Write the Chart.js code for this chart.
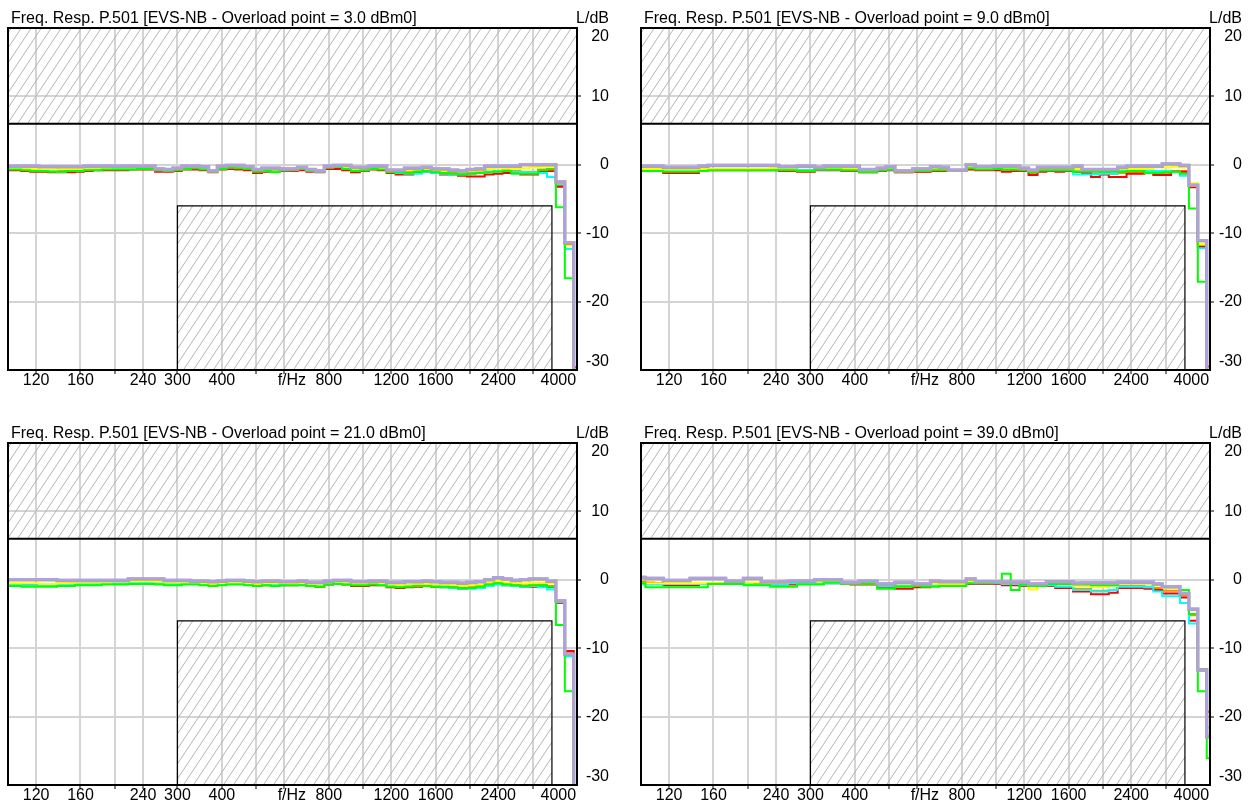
<!DOCTYPE html>
<html><head><meta charset="utf-8">
<script src="https://cdn.jsdelivr.net/npm/chart.js@4.4.1/dist/chart.umd.min.js"></script>
<style>
html,body{margin:0;padding:0;background:#fff;}
body{width:1252px;height:801px;position:relative;overflow:hidden;font-family:"Liberation Sans",Arial,sans-serif;color:#000;}
.panel{position:absolute;width:633px;height:415px;}
.panel canvas{position:absolute;left:0;top:0;}
.title{position:absolute;left:11px;top:10px;font-size:16px;line-height:16px;white-space:nowrap;}
.unit{position:absolute;left:0;width:609px;top:10px;font-size:16px;line-height:16px;text-align:right;white-space:nowrap;}
</style></head>
<body>
<script>
// band centre frequencies (1/12 octave), Hz
const FREQS = [100,105.9,112.2,118.9,126,133.5,141.4,149.8,158.7,168.2,178.2,188.8,200,211.9,224.5,237.8,252,267,282.8,299.7,317.5,336.4,356.4,377.5,400,423.8,449,475.7,504,534,565.7,599.3,635,672.7,712.7,755.1,800,847.6,898,951.4,1008,1068,1131,1199,1270,1345,1425,1510,1600,1695,1796,1903,2016,2136,2263,2397,2540,2691,2851,3020,3200,3390,3592,3805,4032];

const TITLES = [
  'Freq. Resp. P.501 [EVS-NB - Overload point = 3.0 dBm0]',
  'Freq. Resp. P.501 [EVS-NB - Overload point = 9.0 dBm0]',
  'Freq. Resp. P.501 [EVS-NB - Overload point = 21.0 dBm0]',
  'Freq. Resp. P.501 [EVS-NB - Overload point = 39.0 dBm0]'
];
const UNIT_LABEL = 'L/dB';

const X_TICKS  = [100,120,160,200,240,300,400,500,600,630,800,1000,1200,1600,2000,2400,3000,3545,4000];
const X_LABELS = ['','120','160','','240','300','400','','','f/Hz','800','','1200','1600','','2400','','4000',''];
const X_GRID   = [0,1,1,1,1,1,1,1,1,0,1,1,1,1,1,1,1,0,0];
const Y_TICKS  = [-30,-28.8,-20,-10,0,10,18.8,20];
const Y_LABELS = ['','-30','-20','-10','0','10','20',''];
const Y_GRID   = [0,0,1,1,1,1,0,0];

// mask limits
const MASK_UPPER = [[100,6],[4000,6]];
const MASK_LOWER = [[300,-30],[300,-6],[3400,-6],[3400,-30]];

// ---------- Panel 1 (3.0 dBm0) ----------
const P1_LAV = [-0.1,-0.1,-0.1,-0.1,-0.2,-0.2,-0.2,-0.2,-0.2,-0.1, -0.1,-0.1,-0.1,-0.1,-0.1,-0.1,-0.1,-0.5,-0.6,-0.4, -0.1,-0.1,-0.2,-0.8,-0.1,0,0,-0.2,-0.6,-0.4, -0.4,-0.5,-0.5,-0.3,-0.6,-0.8,-0.1,0,0,-0.3, -0.3,-0.1,-0.1,-0.7,-0.7,-0.4,-0.4,-0.3,-0.5,-0.5, -0.7,-0.8,-0.6,-0.5,-0.1,-0.1,-0.1,-0.1,0.1,0.1, 0.1,0.1,-2.4,-11.3,-31];
const P1_GRY = [-0.2,-0.2,-0.2,-0.2,-0.3,-0.3,-0.3,-0.3,-0.3,-0.2, -0.2,-0.2,-0.2,-0.2,-0.2,-0.2,-0.2,-0.6,-0.7,-0.5, -0.2,-0.2,-0.3,-0.9,-0.2,-0.1,-0.1,-0.3,-0.7,-0.5, -0.5,-0.6,-0.6,-0.4,-0.7,-0.9,-0.2,-0.1,-0.1,-0.4, -0.4,-0.2,-0.2,-0.8,-0.8,-0.5,-0.5,-0.4,-0.6,-0.6, -0.8,-0.9,-0.7,-0.6,-0.2,-0.2,-0.2,-0.2,0,0, 0,0,-2.5,-11.4,-31];
const P1_RED = [-0.8,-0.8,-0.9,-1.0,-1.0,-1.1,-1.1,-1.1,-1.0,-0.9, -0.8,-0.8,-0.8,-0.8,-0.7,-0.7,-0.7,-1.0,-1.0,-0.9, -0.7,-0.7,-0.8,-1.1,-0.7,-0.6,-0.7,-0.8,-1.2,-1.0, -1.0,-0.9,-0.9,-0.8,-1.0,-1.1,-0.6,-0.6,-0.8,-1.1, -0.9,-0.7,-0.8,-1.2,-1.4,-1.4,-1.1,-1.0,-1.2,-1.4, -1.4,-1.6,-1.7,-1.7,-1.4,-1.3,-1.2,-1.2,-1.4,-1.4, -1.0,-0.9,-3.2,-11.6,-29.6];
const P1_GRN = [-0.7,-0.7,-0.8,-0.9,-0.9,-1.0,-1.0,-0.9,-0.9,-0.8, -0.8,-0.7,-0.7,-0.7,-0.7,-0.6,-0.6,-0.8,-0.9,-0.8, -0.6,-0.5,-0.7,-1.0,-0.6,-0.4,-0.5,-0.6,-1.0,-0.9, -1.1,-0.8,-0.8,-0.6,-0.9,-0.9,-0.4,-0.3,-0.6,-0.9, -0.8,-0.6,-0.7,-1.1,-1.1,-1.2,-1.0,-0.9,-1.1,-1.2, -1.3,-1.4,-1.3,-1.2,-1.1,-1.0,-0.9,-1.3,-1.3,-1.3, -0.8,-0.7,-6.2,-16.6,-33];
const P1_YEL = [-0.5,-0.5,-0.6,-0.6,-0.7,-0.7,-0.6,-0.6,-0.6,-0.5, -0.5,-0.5,-0.4,-0.4,-0.4,-0.4,-0.4,-0.7,-0.7,-0.6, -0.4,-0.3,-0.4,-0.9,-0.4,-0.3,-0.3,-0.4,-0.8,-0.7, -0.7,-0.6,-0.7,-0.5,-0.8,-0.9,-0.3,-0.2,-0.4,-0.7, -0.6,-0.4,-0.5,-0.9,-0.9,-0.8,-0.7,-0.6,-0.8,-0.9, -0.9,-1.0,-0.9,-0.8,-0.6,-0.5,-0.5,-0.6,-0.5,-0.4, -0.3,-0.3,-2.6,-11.8,-30.3];
const P1_CYN = [-0.6,-0.6,-0.7,-0.8,-0.9,-0.9,-1.0,-0.9,-0.8,-0.7, -0.7,-0.6,-0.6,-0.5,-0.5,-0.5,-0.5,-0.8,-0.8,-0.7, -0.5,-0.4,-0.5,-0.9,-0.5,-0.4,-0.4,-0.5,-0.9,-0.9, -1.0,-0.8,-0.7,-0.6,-0.8,-1.0,-0.4,-0.3,-0.5,-0.8, -0.8,-0.6,-0.6,-1.0,-1.2,-1.3,-1.3,-1.0,-1.2,-1.3, -1.4,-1.4,-1.3,-1.2,-1.0,-0.9,-0.9,-1.0,-1.1,-1.1, -1.2,-1.8,-2.8,-12.3,-31];
const P1_ORG = [-0.6,-0.6,-0.7,-0.8,-0.8,-0.9,-0.9,-0.9,-0.8,-0.7, -0.6,-0.6,-0.6,-0.6,-0.5,-0.5,-0.5,-0.9,-0.9,-0.8, -0.6,-0.5,-0.6,-1.0,-0.6,-0.5,-0.5,-0.6,-1.0,-0.9, -0.8,-0.8,-0.8,-0.7,-0.9,-1.0,-0.5,-0.4,-0.6,-0.9, -0.8,-0.6,-0.7,-1.0,-1.1,-1.0,-0.9,-0.8,-1.0,-1.1, -1.1,-1.2,-1.2,-1.1,-1.0,-0.9,-0.8,-0.9,-1.0,-1.0, -0.7,-0.6,-3.0,-11.5,-30];

// ---------- Panel 2 (9.0 dBm0) ----------
const P2_LAV = [-0.1,-0.1,-0.1,-0.3,-0.3,-0.3,-0.3,-0.1,0,0, 0,0,0,0,0,0,-0.2,-0.2,-0.1,-0.1, -0.3,-0.1,-0.1,-0.1,-0.1,-0.6,-0.6,-0.4,-0.2,-0.8, -0.8,-0.5,-0.5,-0.2,-0.3,-0.7,-0.7,0.1,-0.2,-0.2, -0.1,-0.1,-0.1,-0.4,-0.7,-0.3,-0.3,-0.3,-0.3,-0.1, -0.6,-0.6,-0.6,-0.6,-0.3,-0.1,-0.1,-0.1,-0.1,0.2, 0.2,0,-2.9,-11.0,-31];
const P2_GRY = [-0.2,-0.2,-0.2,-0.4,-0.4,-0.4,-0.4,-0.2,-0.1,-0.1, -0.1,-0.1,-0.1,-0.1,-0.1,-0.1,-0.3,-0.3,-0.2,-0.2, -0.4,-0.2,-0.2,-0.2,-0.2,-0.7,-0.7,-0.5,-0.3,-0.9, -0.9,-0.6,-0.6,-0.3,-0.4,-0.8,-0.8,0,-0.3,-0.3, -0.2,-0.2,-0.2,-0.5,-0.8,-0.4,-0.4,-0.4,-0.4,-0.2, -0.7,-0.7,-0.7,-0.7,-0.4,-0.2,-0.2,-0.2,-0.2,0.1, 0.1,-0.1,-3.0,-11.1,-31];
const P2_RED = [-0.8,-0.8,-0.8,-1.2,-1.2,-1.2,-1.2,-0.8,-0.8,-0.8, -0.8,-0.8,-0.8,-0.8,-0.8,-0.8,-0.9,-0.9,-1.0,-1.0, -0.8,-0.8,-0.8,-0.9,-0.9,-1.1,-1.1,-0.9,-0.8,-1.1, -1.1,-1.0,-1.0,-0.9,-0.9,-0.9,-0.9,-0.7,-0.8,-0.8, -0.8,-1.0,-0.9,-0.9,-1.5,-1.0,-0.9,-1.0,-0.9,-1.0, -1.2,-1.8,-1.4,-1.8,-1.8,-1.3,-1.3,-1.2,-1.5,-1.5, -1.0,-1.0,-3.3,-12.0,-29.5];
const P2_GRN = [-0.9,-0.9,-0.9,-1.0,-1.0,-1.0,-1.0,-0.9,-0.8,-0.8, -0.8,-0.8,-0.8,-0.8,-0.8,-0.8,-0.8,-0.8,-0.9,-0.9, -0.7,-0.7,-0.7,-0.8,-0.8,-1.1,-1.1,-0.8,-0.7,-1.0, -1.0,-0.9,-0.9,-0.8,-0.8,-0.9,-0.9,-0.5,-0.7,-0.7, -0.6,-0.7,-0.7,-0.8,-1.1,-0.8,-0.8,-0.8,-0.8,-1.0, -1.0,-1.0,-1.0,-1.0,-1.0,-0.9,-0.9,-1.2,-1.2,-1.1, -1.0,-1.3,-6.4,-17.1,-33];
const P2_YEL = [-0.6,-0.6,-0.6,-0.7,-0.7,-0.7,-0.7,-0.6,-0.6,-0.6, -0.6,-0.6,-0.6,-0.6,-0.6,-0.5,-0.5,-0.5,-0.2,-0.2, -0.6,-0.6,-0.6,-0.6,-0.6,-0.8,-0.8,-0.6,-0.5,-0.8, -0.8,-0.7,-0.7,-0.6,-0.6,-0.8,-0.8,-0.3,-0.5,-0.5, -0.4,-0.5,-0.5,-0.6,-0.9,-0.7,-0.7,-0.7,-0.7,-0.6, -0.8,-0.8,-0.8,-0.8,-0.6,-0.6,-0.6,-0.6,-0.4,-0.4, -0.3,-0.4,-2.7,-11.6,-30.3];
const P2_CYN = [-0.4,-0.4,-0.6,-0.8,-0.8,-0.8,-0.8,-0.7,-0.7,-0.7, -0.7,-0.7,-0.7,-0.7,-0.7,-0.7,-0.7,-0.7,-0.8,-0.8, -0.7,-0.7,-0.7,-0.8,-0.8,-0.9,-0.9,-0.8,-0.7,-0.9, -0.9,-0.8,-0.8,-0.7,-0.7,-0.8,-0.8,-0.4,-0.6,-0.6, -0.6,-0.7,-0.7,-0.7,-1.0,-0.8,-0.8,-0.8,-0.8,-1.4, -1.4,-1.4,-1.3,-1.3,-0.9,-0.9,-0.9,-0.9,-0.9,-0.9, -1.1,-1.6,-3.0,-12.2,-31];
const P2_ORG = [-0.7,-0.7,-0.7,-1.1,-1.1,-1.0,-1.0,-0.7,-0.7,-0.7, -0.7,-0.7,-0.7,-0.7,-0.7,-0.7,-0.8,-0.8,-0.8,-0.8, -0.7,-0.7,-0.7,-0.8,-0.8,-1.0,-1.0,-0.8,-0.7,-1.1, -1.1,-1.0,-1.0,-0.8,-0.8,-0.9,-0.9,-0.6,-0.7,-0.7, -0.7,-0.8,-0.8,-0.8,-1.3,-0.9,-0.9,-0.9,-0.9,-1.0, -1.1,-1.3,-1.2,-1.3,-1.2,-1.1,-1.1,-1.1,-1.3,-1.2, -0.9,-0.9,-3.1,-11.8,-30];

// ---------- Panel 3 (21.0 dBm0) ----------
const P3_LAV = [0.1,0.1,0.1,0.1,0.1,0.1,0,0,0,0, 0,0,0,0,0.2,0.2,0.2,0.2,0,0, 0,-0.1,-0.1,-0.2,-0.1,0,0,-0.1,-0.2,-0.1, -0.1,-0.2,-0.2,-0.1,-0.3,-0.3,-0.1,0,0,-0.2, -0.2,-0.1,-0.1,-0.3,-0.3,-0.2,-0.2,-0.1,-0.2,-0.3, -0.3,-0.4,-0.3,-0.2,0.1,0.4,0.2,0,0.1,0.2, 0.2,-0.1,-3.0,-10.8,-31];
const P3_GRY = [0,0,0,0,0,0,-0.1,-0.1,-0.1,-0.1, -0.1,-0.1,-0.1,-0.1,0.1,0.1,0.1,0.1,-0.1,-0.1, -0.1,-0.2,-0.2,-0.3,-0.2,-0.1,-0.1,-0.2,-0.3,-0.2, -0.2,-0.3,-0.3,-0.2,-0.4,-0.4,-0.2,-0.1,-0.1,-0.3, -0.3,-0.2,-0.2,-0.4,-0.4,-0.3,-0.3,-0.2,-0.3,-0.4, -0.4,-0.5,-0.4,-0.3,0,0.3,0.1,-0.1,0,0.1, 0.1,-0.2,-3.1,-10.9,-31];
const P3_RED = [-0.7,-0.7,-0.8,-0.8,-0.9,-0.9,-0.8,-0.8,-0.7,-0.7, -0.7,-0.6,-0.6,-0.6,-0.5,-0.5,-0.5,-0.6,-0.7,-0.7, -0.6,-0.6,-0.7,-0.8,-0.7,-0.6,-0.6,-0.7,-0.9,-0.8, -0.8,-0.8,-0.8,-0.7,-0.9,-1.0,-0.7,-0.6,-0.7,-0.9, -0.9,-0.8,-0.8,-1.1,-1.2,-1.1,-1.0,-0.9,-1.0,-1.1, -1.2,-1.3,-1.2,-1.1,-0.8,-0.6,-0.8,-0.9,-1.0,-1.0, -0.9,-1.1,-3.4,-10.4,-30];
const P3_GRN = [-0.9,-0.9,-1.0,-1.0,-1.0,-1.0,-0.9,-0.9,-0.8,-0.8, -0.8,-0.7,-0.7,-0.7,-0.6,-0.6,-0.6,-0.7,-0.8,-0.8, -0.7,-0.7,-0.8,-0.9,-0.8,-0.7,-0.7,-0.8,-0.9,-0.8, -0.9,-0.8,-0.8,-0.8,-0.9,-1.0,-0.7,-0.6,-0.7,-0.8, -0.8,-0.7,-0.8,-1.0,-1.1,-1.0,-0.9,-0.9,-1.0,-1.0, -1.1,-1.2,-1.2,-1.0,-0.7,-0.5,-0.7,-0.8,-0.9,-0.8, -0.8,-1.0,-6.6,-16.3,-31.5];
const P3_YEL = [-0.5,-0.5,-0.5,-0.5,-0.6,-0.6,-0.5,-0.5,-0.4,-0.4, -0.4,-0.4,-0.3,-0.3,-0.2,-0.2,-0.2,-0.3,-0.4,-0.4, -0.4,-0.4,-0.5,-0.6,-0.5,-0.4,-0.4,-0.5,-0.6,-0.5, -0.5,-0.5,-0.6,-0.5,-0.6,-0.7,-0.4,-0.3,-0.4,-0.6, -0.6,-0.5,-0.5,-0.7,-0.8,-0.7,-0.6,-0.6,-0.7,-0.7, -0.8,-0.9,-0.8,-0.7,-0.4,-0.2,-0.4,-0.5,-0.5,-0.4, -0.4,-0.5,-3.1,-10.9,-30.5];
const P3_CYN = [-0.7,-0.7,-0.8,-0.8,-0.8,-0.8,-0.7,-0.7,-0.6,-0.6, -0.6,-0.6,-0.5,-0.5,-0.4,-0.4,-0.4,-0.5,-0.6,-0.6, -0.5,-0.5,-0.6,-0.7,-0.6,-0.5,-0.5,-0.6,-0.8,-0.7, -0.7,-0.7,-0.7,-0.6,-0.8,-0.9,-0.5,-0.4,-0.5,-0.7, -0.7,-0.6,-0.7,-0.9,-1.0,-0.9,-0.8,-0.8,-0.9,-1.1, -1.2,-1.3,-1.3,-1.2,-0.9,-0.7,-0.8,-0.9,-1.0,-0.9, -1.1,-1.4,-3.3,-11.2,-31];
const P3_ORG = [-0.6,-0.6,-0.7,-0.7,-0.8,-0.8,-0.7,-0.7,-0.6,-0.6, -0.6,-0.5,-0.5,-0.5,-0.4,-0.4,-0.4,-0.5,-0.6,-0.6, -0.5,-0.5,-0.6,-0.7,-0.6,-0.5,-0.5,-0.6,-0.8,-0.7, -0.7,-0.7,-0.7,-0.6,-0.8,-0.9,-0.6,-0.5,-0.6,-0.8, -0.8,-0.7,-0.7,-1.0,-1.0,-0.9,-0.9,-0.8,-0.9,-1.0, -1.0,-1.1,-1.0,-0.9,-0.6,-0.4,-0.6,-0.7,-0.8,-0.8, -0.7,-0.9,-3.2,-10.6,-30];

// ---------- Panel 4 (39.0 dBm0) ----------
const P4_LAV = [0.45,0.3,0.3,0,0,0,0.3,0.3,0.3,0.3, -0.1,-0.1,0.3,0.3,-0.2,-0.2,-0.2,-0.1,-0.1,-0.1, 0.1,0.1,0.1,-0.3,-0.3,-0.1,-0.1,-0.5,-0.5,-0.3, -0.3,-0.5,-0.5,-0.1,-0.2,-0.2,-0.2,0.2,-0.2,-0.2, -0.2,-0.25,-0.25,-0.25,-0.5,-0.5,-0.2,-0.2,-0.2,-0.4, -0.35,-0.35,-0.35,-0.35,-0.25,-0.25,-0.25,-0.25,-0.5,-0.9, -0.9,-1.9,-4.2,-13.1,-22.8];
const P4_GRY = [0.35,0.2,0.2,-0.1,-0.1,-0.1,0.2,0.2,0.2,0.2, -0.2,-0.2,0.2,0.2,-0.3,-0.3,-0.3,-0.2,-0.2,-0.2, 0,0,0,-0.4,-0.4,-0.2,-0.2,-0.6,-0.6,-0.4, -0.4,-0.6,-0.6,-0.2,-0.3,-0.3,-0.3,0.1,-0.3,-0.3, -0.3,-0.35,-0.35,-0.35,-0.6,-0.6,-0.3,-0.3,-0.3,-0.5, -0.45,-0.45,-0.45,-0.45,-0.35,-0.35,-0.35,-0.35,-0.6,-1.0, -1.0,-2.0,-4.3,-13.2,-23];
const P4_RED = [-0.5,-0.5,-0.5,-0.8,-0.8,-0.8,-0.8,-0.6,-0.6,-0.6, -0.6,-0.5,-0.6,-0.6,-0.7,-0.7,-0.7,-0.7,-0.6,-0.6, -0.6,-0.5,-0.5,-0.6,-0.7,-0.7,-0.7,-1.0,-1.0,-1.3, -1.3,-1.1,-1.1,-0.8,-0.8,-0.8,-0.7,-0.6,-0.6,-0.6, -0.6,-0.8,-0.8,-0.9,-0.9,-0.9,-0.9,-1.2,-1.2,-1.7, -1.7,-2.1,-2.1,-1.9,-1.2,-1.2,-1.2,-1.3,-1.5,-2.0, -2.0,-2.6,-6.0,-13.1,-19.3];
const P4_GRN = [-0.5,-1.1,-1.1,-1.1,-1.1,-1.1,-1.1,-1.1,-0.6,-0.6, -0.6,-0.6,-0.8,-0.8,-0.8,-1.0,-1.0,-1.0,-0.7,-0.7, -0.7,-0.4,-0.4,-0.6,-0.6,-0.6,-0.6,-1.3,-1.3,-1.0, -1.0,-0.9,-1.0,-1.0,-0.9,-0.9,-0.9,-0.5,-0.5,-0.5, -0.4,0.9,-1.5,-0.7,-0.9,-0.9,-0.6,-0.6,-0.6,-0.7, -0.7,-0.8,-0.8,-0.8,-0.5,-0.5,-0.5,-0.5,-0.7,-1.0, -1.0,-1.5,-5.0,-16.3,-26.1];
const P4_YEL = [-0.5,-0.5,-0.5,-0.5,-0.5,-0.5,-0.5,-0.5,-0.5,-0.5, -0.5,-0.4,-0.4,-0.4,-0.4,-0.4,-0.4,-0.3,-0.3,-0.3, -0.3,-0.3,-0.3,-0.5,-0.5,-0.5,-0.5,-0.6,-0.6,-0.6, -0.6,-0.6,-0.6,-0.6,-0.6,-0.6,-0.6,-0.3,-0.3,-0.3, -0.3,-0.4,-0.4,-0.6,-1.4,-0.6,-0.6,-0.6,-0.6,-0.9, -0.9,-1.0,-1.0,-0.9,-0.5,-0.5,-0.5,-0.5,-0.8,-1.2, -1.2,-2.0,-4.4,-13.2,-22.5];
const P4_CYN = [-0.7,-0.7,-0.7,-0.6,-0.6,-0.6,-0.6,-0.6,-0.6,-0.6, -0.6,-0.6,-0.6,-0.7,-0.7,-0.7,-0.7,-0.5,-0.5,-0.5, -0.5,-0.5,-0.5,-0.6,-0.6,-0.6,-0.6,-0.9,-0.9,-0.8, -0.8,-0.8,-0.8,-0.9,-0.9,-0.9,-0.9,-0.5,-0.5,-0.5, -0.5,-0.6,-0.6,-0.8,-0.8,-0.8,-0.8,-1.0,-1.0,-1.5, -1.5,-1.7,-1.7,-1.5,-1.0,-1.0,-1.0,-1.1,-1.7,-2.4, -2.4,-3.4,-6.4,-13.3,-21.6];
const P4_ORG = [-0.3,-0.4,-0.6,-0.7,-0.7,-0.7,-0.7,-0.6,-0.5,-0.5, -0.5,-0.5,-0.5,-0.6,-0.6,-0.6,-0.6,-0.6,-0.5,-0.5, -0.5,-0.4,-0.4,-0.5,-0.6,-0.6,-0.6,-0.8,-0.8,-0.9, -0.9,-0.8,-0.8,-0.6,-0.7,-0.7,-0.7,-0.4,-0.4,-0.5, -0.5,-0.6,-0.6,-0.8,-0.8,-0.8,-0.8,-1.0,-1.0,-1.3, -1.3,-1.6,-1.6,-1.5,-0.9,-0.9,-0.9,-1.0,-1.2,-1.6, -1.6,-2.3,-5.2,-13.1,-20];

// series in drawing order: first = on top
const SERIES_COLORS = ['#b0a0e8','#a8a8a8','#00ff00','#ffff00','#00ffff','#ff0000','#ff8c00'];
const SERIES_WIDTHS = [2,3.5,2,2,2,2,2];
const PANEL_SERIES = [
  [P1_LAV,P1_GRY,P1_GRN,P1_YEL,P1_CYN,P1_RED,P1_ORG],
  [P2_LAV,P2_GRY,P2_GRN,P2_YEL,P2_CYN,P2_RED,P2_ORG],
  [P3_LAV,P3_GRY,P3_GRN,P3_YEL,P3_CYN,P3_RED,P3_ORG],
  [P4_LAV,P4_GRY,P4_GRN,P4_YEL,P4_CYN,P4_RED,P4_ORG]
];
const PANEL_POS = [[0,0],[633,0],[0,415],[633,415]];

Chart.defaults.font.family = "'Liberation Sans', Arial, sans-serif";
Chart.defaults.color = '#000';

function makeHatch(){
  const c = document.createElement('canvas');
  c.width = 10; c.height = 15;
  const g = c.getContext('2d');
  g.strokeStyle = '#b4b4b4'; g.lineWidth = 1;
  for (const o of [-10,0,10]) { g.beginPath(); g.moveTo(o,15); g.lineTo(o+10,0); g.stroke(); }
  return g.createPattern(c,'repeat');
}
const HATCH = makeHatch();

const framePlugin = {
  id:'frame',
  afterDatasetsDraw(chart){
    const {ctx, chartArea:a} = chart;
    ctx.save();
    ctx.strokeStyle = '#000'; ctx.lineWidth = 2;
    ctx.beginPath();
    ctx.moveTo(a.left, a.bottom); ctx.lineTo(a.left, a.top); ctx.lineTo(a.right, a.top); ctx.lineTo(a.right, a.bottom); ctx.closePath();
    ctx.stroke();
    ctx.restore();
  }
};

function idxOf(arr, v){ for (let i=0;i<arr.length;i++) if (Math.abs(arr[i]-v) < 1e-6) return i; return -1; }

PANEL_SERIES.forEach((series, p) => {
  const div = document.createElement('div');
  div.className = 'panel';
  div.style.left = PANEL_POS[p][0] + 'px';
  div.style.top = PANEL_POS[p][1] + 'px';
  const cv = document.createElement('canvas');
  cv.width = 633; cv.height = 415;
  div.appendChild(cv);
  const t = document.createElement('div'); t.className = 'title'; t.textContent = TITLES[p]; div.appendChild(t);
  const u = document.createElement('div'); u.className = 'unit'; u.textContent = UNIT_LABEL; div.appendChild(u);
  document.body.appendChild(div);

  const datasets = series.map((vals, s) => ({
    data: FREQS.map((f,i) => ({x:f, y:vals[i]})),
    borderColor: SERIES_COLORS[s], borderWidth: SERIES_WIDTHS[s],
    stepped: 'middle', pointRadius: 0, fill: false, tension: 0
  }));
  datasets.push({
    data: MASK_UPPER.map(d => ({x:d[0], y:d[1]})),
    borderColor:'#000', borderWidth:2, pointRadius:0, fill:'end', backgroundColor: HATCH
  });
  datasets.push({
    data: MASK_LOWER.map(d => ({x:d[0], y:d[1]})),
    borderColor:'#000', borderWidth:1.2, pointRadius:0, fill:'start', backgroundColor: HATCH
  });

  new Chart(cv, {
    type:'line',
    data:{datasets},
    options:{
      responsive:false, animation:false, events:[], devicePixelRatio:1,
      layout:{padding:{left:8, top:28, right:24, bottom:0}},
      plugins:{legend:{display:false}, tooltip:{enabled:false}, title:{display:false}},
      scales:{
        x:{
          type:'logarithmic', min:100, max:4000, position:'bottom',
          afterBuildTicks: s => { s.ticks = X_TICKS.map(v => ({value:v})); },
          afterFit: s => { s.height = 45; },
          ticks:{autoSkip:false, maxRotation:0, minRotation:0, padding:-3.5, font:{size:16}, color:'#000',
            callback: (v) => { const i = idxOf(X_TICKS, v); return i >= 0 ? X_LABELS[i] : ''; }},
          grid:{
            color: c => (c.tick && X_GRID[idxOf(X_TICKS, c.tick.value)]) ? '#d4d4d4' : 'rgba(0,0,0,0)',
            lineWidth: 2, drawTicks:true, tickLength:4, tickWidth:1,
            tickColor: c => (c.tick && X_GRID[idxOf(X_TICKS, c.tick.value)]) ? '#000' : 'rgba(0,0,0,0)'
          },
          border:{display:false}
        },
        y:{
          type:'linear', min:-30, max:20, position:'right',
          afterBuildTicks: s => { s.ticks = Y_TICKS.map(v => ({value:v})); },
          afterFit: s => { s.width = 32; },
          ticks:{crossAlign:'far', padding:4.5, font:{size:16}, color:'#000',
            callback: (v) => { const i = idxOf(Y_TICKS, v); return i >= 0 ? Y_LABELS[i] : ''; }},
          grid:{
            color: c => (c.tick && Y_GRID[idxOf(Y_TICKS, c.tick.value)]) ? '#d4d4d4' : 'rgba(0,0,0,0)',
            lineWidth: 2, drawTicks:true, tickLength:4, tickWidth:1,
            tickColor: c => (c.tick && Y_GRID[idxOf(Y_TICKS, c.tick.value)]) ? '#000' : 'rgba(0,0,0,0)'
          },
          border:{display:false}
        }
      }
    },
    plugins:[framePlugin]
  });
});
</script>
</body></html>
